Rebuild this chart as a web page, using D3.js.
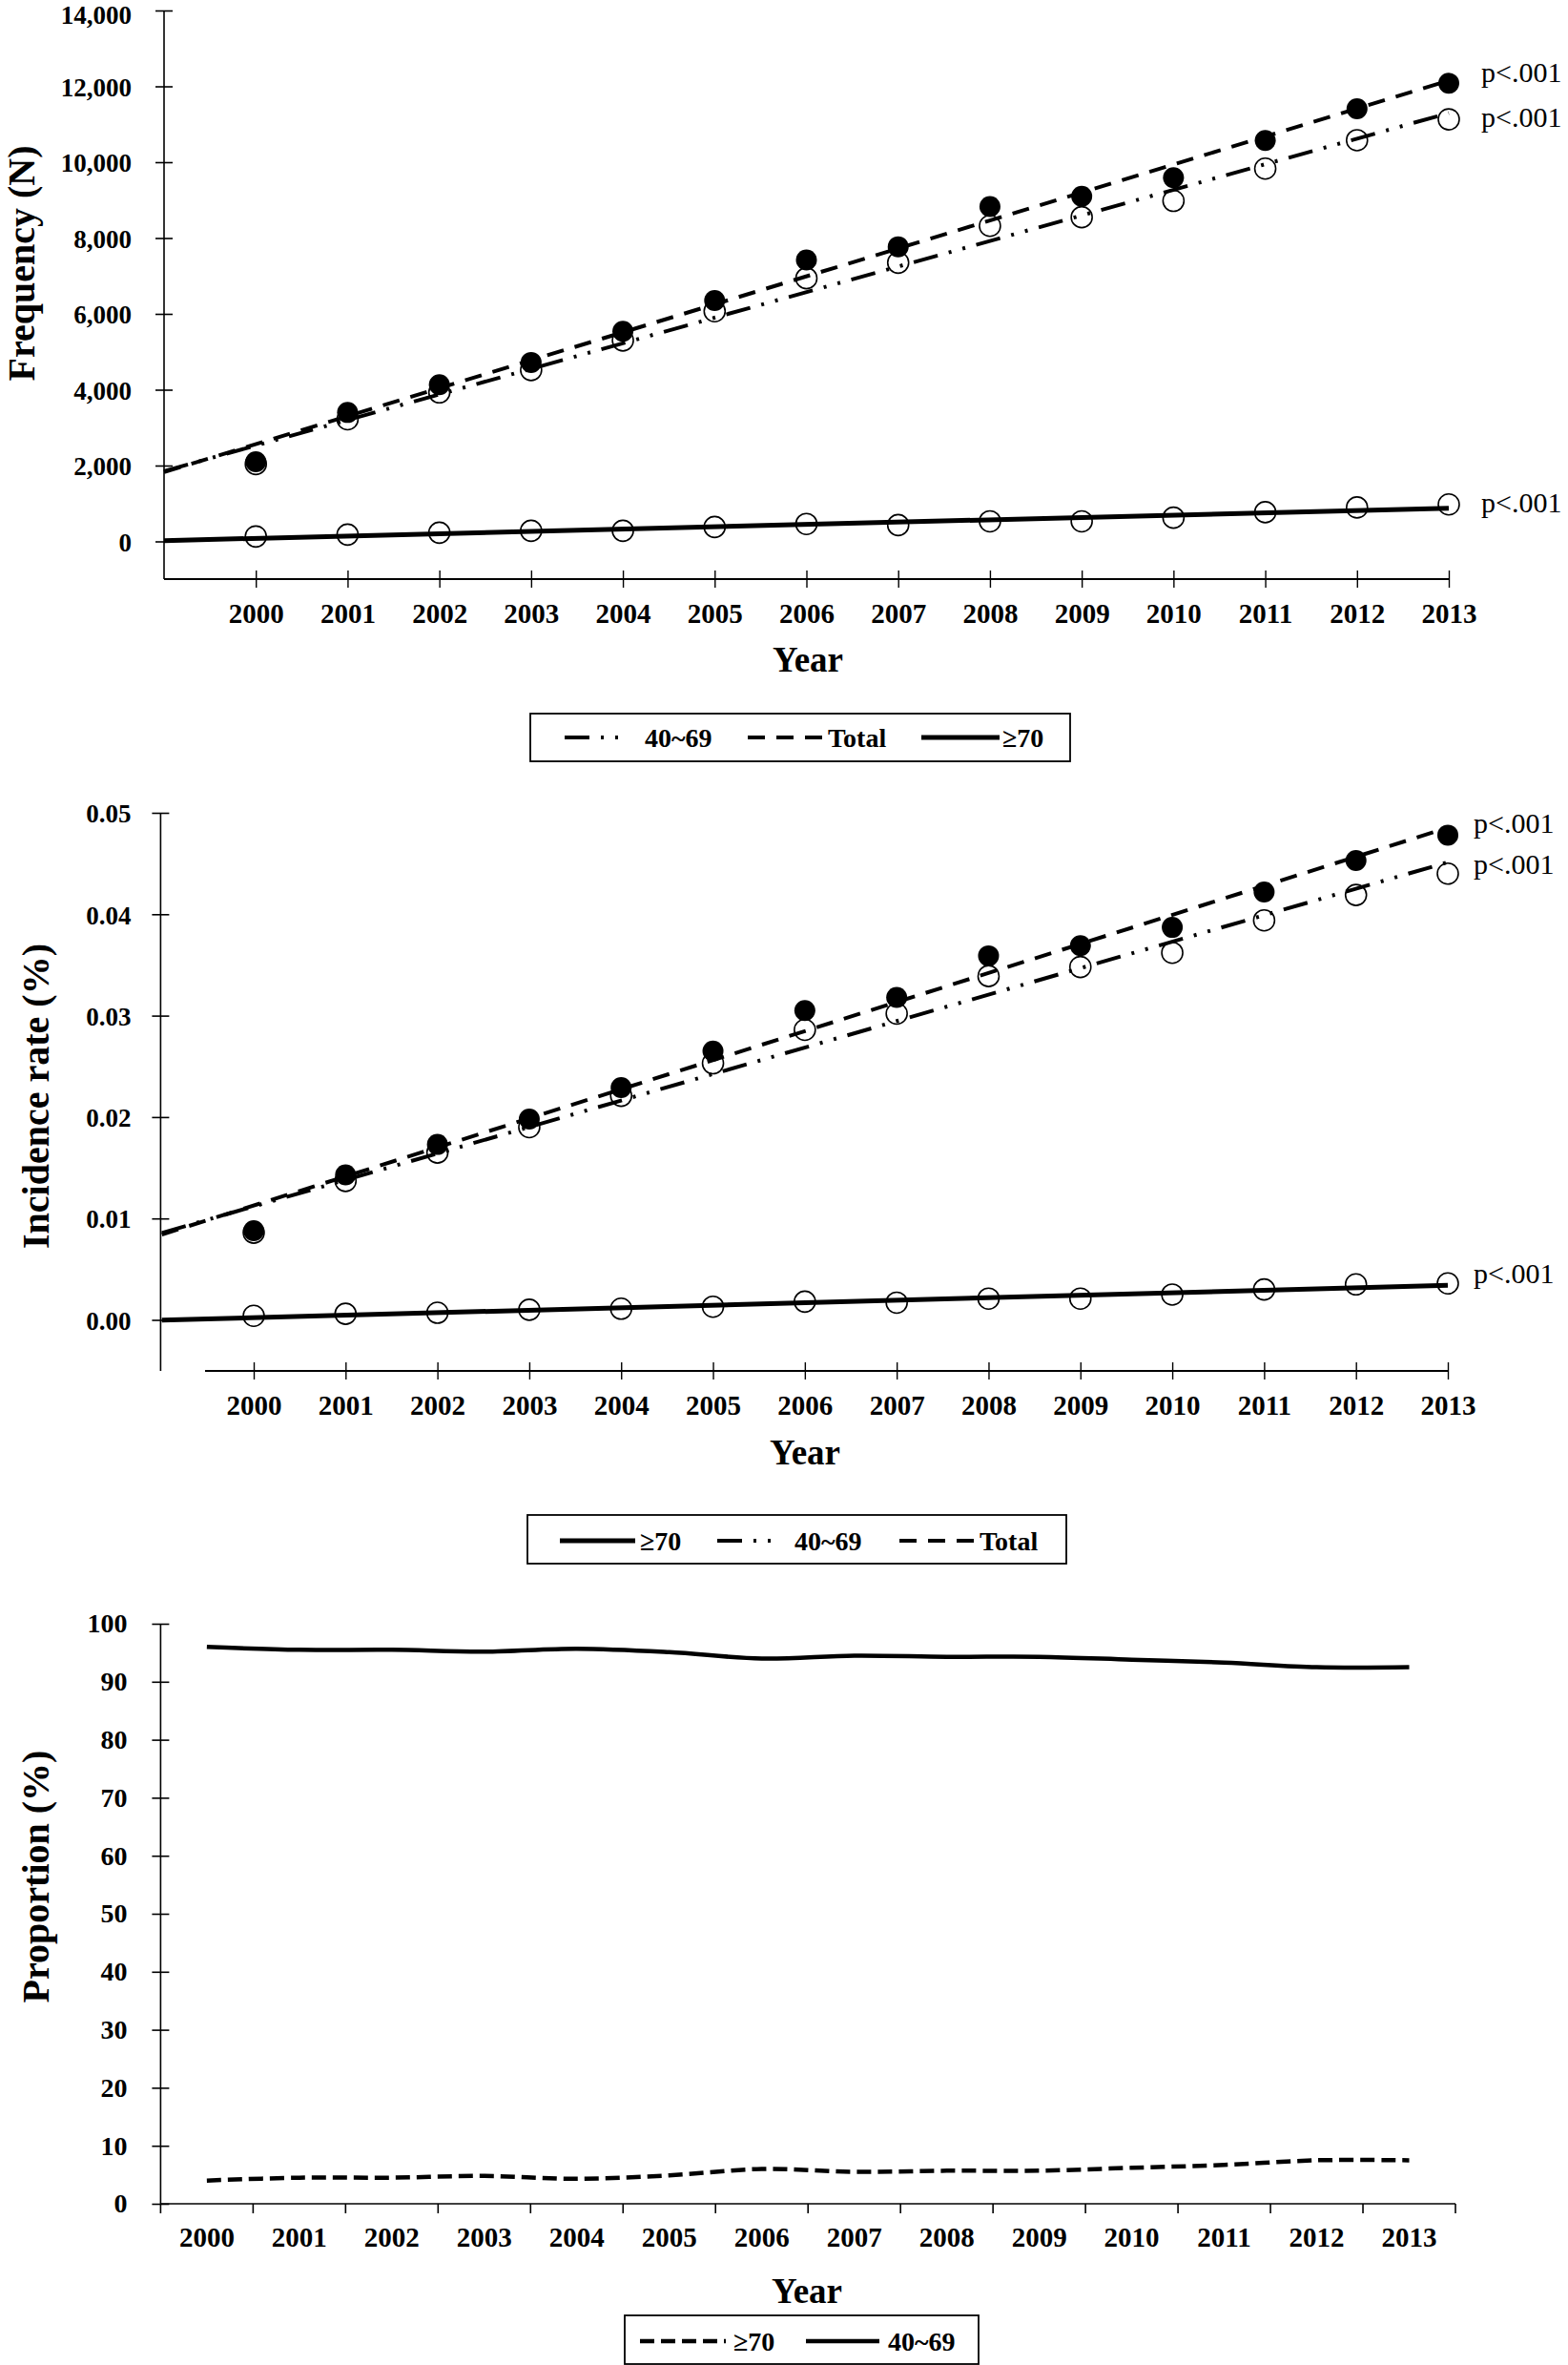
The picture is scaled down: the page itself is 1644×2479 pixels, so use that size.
<!DOCTYPE html>
<html><head><meta charset="utf-8">
<script src="https://cdn.jsdelivr.net/npm/d3@7"></script>
<style>
body{margin:0;background:#fff}
svg{display:block}
text{font-family:'Liberation Serif','Times New Roman',serif;fill:#000}
</style>
</head><body>
<svg id="c" width="1644" height="2479"></svg>
<script>
// ---------- data ----------
const years = [2000,2001,2002,2003,2004,2005,2006,2007,2008,2009,2010,2011,2012,2013];

// Panel 1: frequency (N)
const freqTotal = [2100,3400,4130,4720,5540,6350,7420,7770,8830,9100,9590,10570,11410,12080];
const freq4069  = [2040,3220,3930,4520,5300,6070,6940,7350,8320,8550,8980,9830,10580,11130];
const freq70    = [130,180,230,280,280,380,460,430,530,530,625,770,895,975];
const freqTicks = [0,2000,4000,6000,8000,10000,12000,14000];

// Panel 2: incidence rate (%)
const rateTotal = [0.0088,0.0143,0.0173,0.0198,0.0229,0.0265,0.0305,0.0318,0.0359,0.0369,0.0387,0.0422,0.0453,0.0478];
const rate4069  = [0.0086,0.0137,0.0165,0.0190,0.0221,0.0253,0.0286,0.0302,0.0339,0.0348,0.0362,0.0394,0.0419,0.0440];
const rate70    = [0.0004,0.0006,0.0007,0.0010,0.0011,0.0013,0.0018,0.0017,0.0021,0.0021,0.0025,0.0030,0.0035,0.0036];
const rateTicks = [0,0.01,0.02,0.03,0.04,0.05];

// Panel 3: proportion (%)
const prop70    = [4.0,4.5,4.5,4.8,4.3,4.9,6.0,5.5,5.7,5.7,6.2,6.7,7.5,7.5];
const prop4069  = [96.0,95.5,95.5,95.2,95.7,95.1,94.0,94.5,94.3,94.3,93.8,93.3,92.5,92.5];
const propTicks = [0,10,20,30,40,50,60,70,80,90,100];

const pLabel = "p<.001";

// ---------- helpers ----------
const svg = d3.select('#c');
const FONT = "'Liberation Serif','Times New Roman',serif";
const STYLE = {
  total: {dash: '18,12', width: 4},
  mid:   {dash: '26,12,3,12,3,12', width: 4},
  old:   {dash: null, width: 5}
};

function linFit(xs, ys){
  const mx = d3.mean(xs), my = d3.mean(ys);
  let sxy = 0, sxx = 0;
  xs.forEach((x,i)=>{ sxy += (x-mx)*(ys[i]-my); sxx += (x-mx)*(x-mx); });
  const b = sxy/sxx;
  return x => my + b*(x-mx);
}

function styledLine(sel, st){
  sel.attr('fill','none').attr('stroke','#000').attr('stroke-width', st.width);
  if (st.dash) sel.attr('stroke-dasharray', st.dash);
  return sel;
}

function legend(g, box, items, ty){
  g.append('rect').attr('x',box[0]).attr('y',box[1]).attr('width',box[2]-box[0]).attr('height',box[3]-box[1])
    .attr('fill','#fff').attr('stroke','#000').attr('stroke-width',1.8);
  items.forEach(it=>{
    styledLine(g.append('line').attr('x1',it.s0).attr('x2',it.s1).attr('y1',ty).attr('y2',ty), it.st);
    g.append('text').attr('x',it.t).attr('y',ty).attr('dy','0.35em')
      .attr('font-size',28).attr('font-weight','bold').text(it.label);
  });
}

function trendPanel(cfg){
  const g = svg.append('g');
  const x = d3.scaleLinear().domain([years[0]-1, years[years.length-1]]).range(cfg.xr);
  const y = d3.scaleLinear().domain([0, cfg.yMax]).range(cfg.yr);

  // y axis
  const ya = g.append('g').attr('transform',`translate(${cfg.axisX},0)`)
    .call(d3.axisLeft(y).tickValues(cfg.yTicks).tickFormat(cfg.fmt).tickSize(9).tickPadding(cfg.yPad));
  ya.select('.domain').remove();
  ya.selectAll('.tick line').attr('x1',-9).attr('x2',9).attr('stroke','#000').attr('stroke-width',1.6);
  ya.selectAll('.tick text').attr('font-size',27).attr('font-weight','bold')
    .attr('font-family',FONT).attr('fill','#000').attr('dy','0.36em');
  // keep the top label inside the page
  ya.selectAll('.tick text').filter(d=>y(d) < 20).attr('dy','0.5em');
  g.append('line').attr('x1',cfg.axisX).attr('x2',cfg.axisX).attr('y1',cfg.yr[1]).attr('y2',cfg.xAxisY)
    .attr('stroke','#000').attr('stroke-width',1.6);

  // x axis
  const xa = g.append('g').attr('transform',`translate(0,${cfg.xAxisY})`)
    .call(d3.axisBottom(x).tickValues(years).tickFormat(d3.format('d')).tickSize(9));
  xa.select('.domain').remove();
  xa.selectAll('.tick line').attr('y1',-9).attr('y2',9).attr('stroke','#000').attr('stroke-width',1.4);
  xa.selectAll('.tick text').attr('y',36).attr('dy','0.35em').attr('font-size',29).attr('font-weight','bold')
    .attr('font-family',FONT).attr('fill','#000');
  g.append('line').attr('x1',cfg.xAxisStart).attr('x2',x(years[years.length-1])).attr('y1',cfg.xAxisY).attr('y2',cfg.xAxisY)
    .attr('stroke','#000').attr('stroke-width',2.2);

  // titles
  g.append('text').attr('transform',`translate(${cfg.yTitle[0]},${cfg.yTitle[1]}) rotate(-90)`)
    .attr('text-anchor','middle').attr('dy','0.35em').attr('font-size',40).attr('font-weight','bold').text(cfg.yLabel);
  g.append('text').attr('x',cfg.xTitle[0]).attr('y',cfg.xTitle[1]).attr('text-anchor','middle').attr('dy','0.35em')
    .attr('font-size',37).attr('font-weight','bold').text('Year');

  // markers
  const R = 11;
  [cfg.series.mid, cfg.series.old].forEach(vals=>{
    g.selectAll(null).data(vals).enter().append('circle')
      .attr('cx',(d,i)=>x(years[i])).attr('cy',d=>y(d)).attr('r',R)
      .attr('fill','#fff').attr('stroke','#000').attr('stroke-width',1.6);
  });
  g.selectAll(null).data(cfg.series.total).enter().append('circle')
    .attr('cx',(d,i)=>x(years[i])).attr('cy',d=>y(d)).attr('r',R).attr('fill','#000');

  // trend lines (least squares, extended back one period)
  const x0 = years[0]-1, x1 = years[years.length-1];
  ['mid','total','old'].forEach(k=>{
    const f = linFit(years, cfg.series[k]);
    styledLine(g.append('path').attr('d', d3.line()([[x(x0),y(f(x0))],[x(x1),y(f(x1))]])), STYLE[k]);
  });

  // p labels
  ['total','mid','old'].forEach((k,i)=>{
    const vals = cfg.series[k];
    g.append('text').attr('x', x(x1)+cfg.pdx).attr('y', y(vals[vals.length-1]) + cfg.pdy[i]).attr('dy','0.35em')
      .attr('font-size',30).text(pLabel);
  });

  legend(g, cfg.legBox, cfg.legItems, cfg.legY);
}

// ---------- Panel 1 ----------
trendPanel({
  xr:[172,1519], yr:[567.5,11], yMax:14000, yTicks:freqTicks, fmt:d3.format(','), yPad:25,
  axisX:172, xAxisY:607, xAxisStart:172,
  yLabel:'Frequency (N)', yTitle:[22,276], xTitle:[847,691],
  series:{total:freqTotal, mid:freq4069, old:freq70},
  pdx:34, pdy:[-12,-3,-2],
  legBox:[556,748,1122,798], legY:773,
  legItems:[
    {s0:592,s1:660,t:676,st:STYLE.mid,label:'40~69'},
    {s0:784,s1:862,t:868,st:STYLE.total,label:'Total'},
    {s0:966,s1:1048,t:1051,st:STYLE.old,label:'≥70'}
  ]
});

// ---------- Panel 2 ----------
trendPanel({
  xr:[169.7,1518], yr:[1383.5,852], yMax:0.05, yTicks:rateTicks, fmt:d3.format('.2f'), yPad:22,
  axisX:168.4, xAxisY:1437, xAxisStart:215,
  yLabel:'Incidence rate (%)', yTitle:[37,1149], xTitle:[844,1522],
  series:{total:rateTotal, mid:rate4069, old:rate70},
  pdx:27, pdy:[-13,-10,-11],
  legBox:[553,1588,1118,1639], legY:1615,
  legItems:[
    {s0:587,s1:666,t:671,st:STYLE.old,label:'≥70'},
    {s0:752,s1:818,t:833,st:STYLE.mid,label:'40~69'},
    {s0:943,s1:1022,t:1027,st:STYLE.total,label:'Total'}
  ]
});

// ---------- Panel 3 ----------
(function(){
  const g = svg.append('g');
  const x = d3.scaleBand().domain(years).range([168.4,1526]);
  const y = d3.scaleLinear().domain([0,100]).range([2310,1702]);
  const cx = d => x(d) + x.bandwidth()/2;

  const ya = g.append('g').attr('transform','translate(168.4,0)')
    .call(d3.axisLeft(y).tickValues(propTicks).tickSize(9).tickPadding(26));
  ya.select('.domain').remove();
  ya.selectAll('.tick line').attr('x1',-9).attr('x2',9).attr('stroke','#000').attr('stroke-width',1.6);
  ya.selectAll('.tick text').attr('font-size',28).attr('font-weight','bold')
    .attr('font-family',FONT).attr('fill','#000');
  g.append('line').attr('x1',168.4).attr('x2',168.4).attr('y1',1702).attr('y2',2310).attr('stroke','#000').attr('stroke-width',1.6);

  const xa = g.append('g').attr('transform','translate(0,2310)')
    .call(d3.axisBottom(x).tickSize(0).tickFormat(d3.format('d')));
  xa.select('.domain').remove();
  xa.selectAll('.tick text').attr('y',35).attr('dy','0.35em').attr('font-size',29).attr('font-weight','bold')
    .attr('font-family',FONT).attr('fill','#000');
  g.append('line').attr('x1',168.4).attr('x2',1526).attr('y1',2310).attr('y2',2310).attr('stroke','#000').attr('stroke-width',1.6);
  const bounds = years.map(d=>x(d)).concat([x.range()[1]]);
  g.selectAll(null).data(bounds).enter().append('line')
    .attr('x1',d=>d).attr('x2',d=>d).attr('y1',2310).attr('y2',2320).attr('stroke','#000').attr('stroke-width',1.6);

  g.append('text').attr('transform','translate(37,1967) rotate(-90)').attr('text-anchor','middle').attr('dy','0.35em')
    .attr('font-size',40).attr('font-weight','bold').text('Proportion (%)');
  g.append('text').attr('x',846).attr('y',2401).attr('text-anchor','middle').attr('dy','0.35em')
    .attr('font-size',37).attr('font-weight','bold').text('Year');

  const line = d3.line().x((d,i)=>cx(years[i])).y(d=>y(d)).curve(d3.curveCatmullRom.alpha(0.5));
  const solid = {dash:null, width:4.5}, dashed = {dash:'15,7', width:4.5};
  styledLine(g.append('path').attr('d', line(prop4069)), solid);
  styledLine(g.append('path').attr('d', line(prop70)), dashed);

  legend(g, [655,2427,1026,2478], [
    {s0:671,s1:761,t:769,st:dashed,label:'≥70'},
    {s0:845,s1:922,t:931,st:solid,label:'40~69'}
  ], 2454);
})();
</script>
</body></html>
